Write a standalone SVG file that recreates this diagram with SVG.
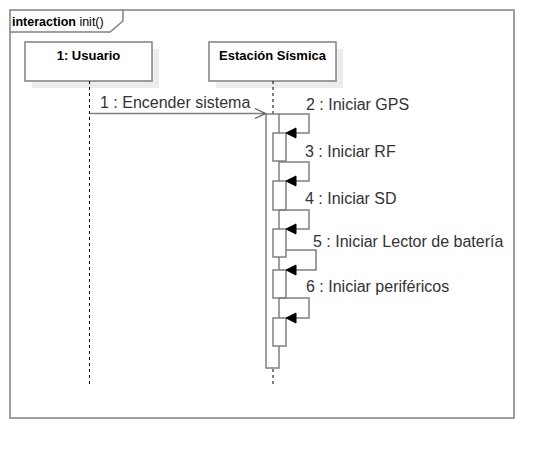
<svg xmlns="http://www.w3.org/2000/svg" width="554" height="458" viewBox="0 0 554 458">
<style>
.frame{fill:none;stroke:#808080;stroke-width:1.5}
.box{fill:#ffffff;stroke:#808080;stroke-width:1.5}
.shadow{fill:#ececec;stroke:none}
.life{fill:none;stroke:#000;stroke-width:1;stroke-dasharray:3 3}
.act{fill:#ffffff;stroke:#808080;stroke-width:1.5}
.msg{fill:none;stroke:#808080;stroke-width:1.5}
.head{fill:#000;stroke:#000;stroke-width:1}
.open{fill:none;stroke:#555;stroke-width:1.2}
.title{font-family:"Liberation Sans",Arial,sans-serif;font-size:13px;font-weight:bold;fill:#000;text-anchor:middle}
.lbl{font-family:"Liberation Sans",Arial,sans-serif;font-size:16px;fill:#333}
.ft{font-family:"Liberation Sans",Arial,sans-serif;font-size:12.5px;fill:#000}
</style>
<rect width="554" height="458" fill="#ffffff"/>
<g id="frame">
<rect class="frame" x="10" y="10" width="504" height="408"/>
<path class="frame" d="M10,32 H110 L123,21 V10"/>
<text class="ft" x="12" y="26"><tspan font-weight="bold">interaction</tspan> init()</text>
</g>
<g id="lifeline-usuario">
<rect class="shadow" x="32" y="49" width="127" height="39"/>
<rect class="box" x="25" y="42" width="127" height="39"/>
<text class="title" x="88.5" y="60">1: Usuario</text>
<line class="life" x1="89.5" y1="81" x2="89.5" y2="386"/>
</g>
<g id="lifeline-estacion">
<rect class="shadow" x="216" y="49" width="127" height="39"/>
<rect class="box" x="209" y="42" width="127" height="39"/>
<text class="title" x="272.5" y="60">Estación Sísmica</text>
<line class="life" x1="273" y1="81" x2="273" y2="386"/>
<rect class="act" x="266" y="114" width="13" height="254"/>
<rect class="act" x="273" y="133" width="13" height="28"/>
<rect class="act" x="273" y="181" width="13" height="29"/>
<rect class="act" x="273" y="229" width="13" height="28"/>
<rect class="act" x="273" y="270" width="13" height="28"/>
<rect class="act" x="273" y="318" width="13" height="28"/>
</g>
<g id="connectors">
<line class="msg" x1="90" y1="113.5" x2="265" y2="113.5"/>
<path class="open" d="M255,108.5 L265.5,113.5 L255,118.5"/>
<text class="lbl" x="100" y="108">1 : Encender sistema</text>

<path class="msg" d="M279,114 H309 V133 H296"/>
<polygon class="head" points="286,133 296,128 296,138"/>
<text class="lbl" x="306" y="110">2 : Iniciar GPS</text>

<path class="msg" d="M279,162 H309 V181 H296"/>
<polygon class="head" points="286,181 296,176 296,186"/>
<text class="lbl" x="305" y="157">3 : Iniciar RF</text>

<path class="msg" d="M279,210 H309 V229 H296"/>
<polygon class="head" points="286,229 296,224 296,234"/>
<text class="lbl" x="305" y="204">4 : Iniciar SD</text>

<path class="msg" d="M286,250 H316 V270 H296"/>
<polygon class="head" points="286,270 296,265 296,275"/>
<text class="lbl" x="313" y="247">5 : Iniciar Lector de batería</text>

<path class="msg" d="M279,298 H309 V318 H296"/>
<polygon class="head" points="286,318 296,313 296,323"/>
<text class="lbl" x="306" y="292">6 : Iniciar periféricos</text>
</g>
</svg>
